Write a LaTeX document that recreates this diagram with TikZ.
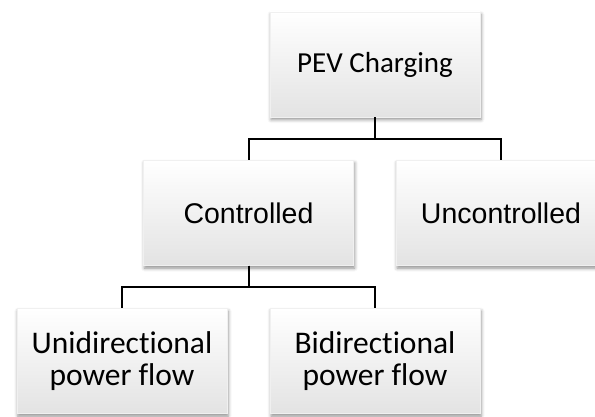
\documentclass[tikz,border=0pt]{standalone}
\usepackage{fontspec}
\setmainfont[Ligatures=NoCommon]{Carlito}
\newfontfamily\arialfont{Liberation Sans}
\usetikzlibrary{shadows.blur}
\begin{document}
\begin{tikzpicture}[x=1pt,y=-1pt,
  box/.style={minimum width=210pt,minimum height=105pt,inner sep=0pt,
    align=center,top color=white,middle color=white,bottom color=black!11,
    draw=black!6,line width=0.3pt,
    blur shadow={shadow xshift=1pt,shadow yshift=-2.5pt,shadow blur radius=3.5pt,shadow opacity=45}},
  calibri/.style={font=\fontsize{29}{34}\selectfont},
  calibrib/.style={font=\fontsize{31.5}{32.5}\selectfont},
  arial/.style={font=\arialfont\fontsize{28.5}{33}\selectfont},
  link/.style={line width=2pt,black}]
\useasboundingbox (0,0) rectangle (595,417);
\node[box,calibri] (pev) at (375,64.5) {PEV Charging};
\node[box,arial] (ctrl) at (248.5,213) {Controlled};
\node[box,arial] (unc) at (501,213) {Uncontrolled};
\node[box,calibrib] (uni) at (122,361) {Unidirectional\\power flow};
\node[box,calibrib] (bi) at (375,361) {Bidirectional\\power flow};
\draw[link] (pev.south) -- ++(0,22) -| (ctrl.north);
\draw[link] (pev.south) -- ++(0,22) -| (unc.north);
\draw[link] (ctrl.south) -- ++(0,21) -| (uni.north);
\draw[link] (ctrl.south) -- ++(0,21) -| (bi.north);
\end{tikzpicture}
\end{document}
